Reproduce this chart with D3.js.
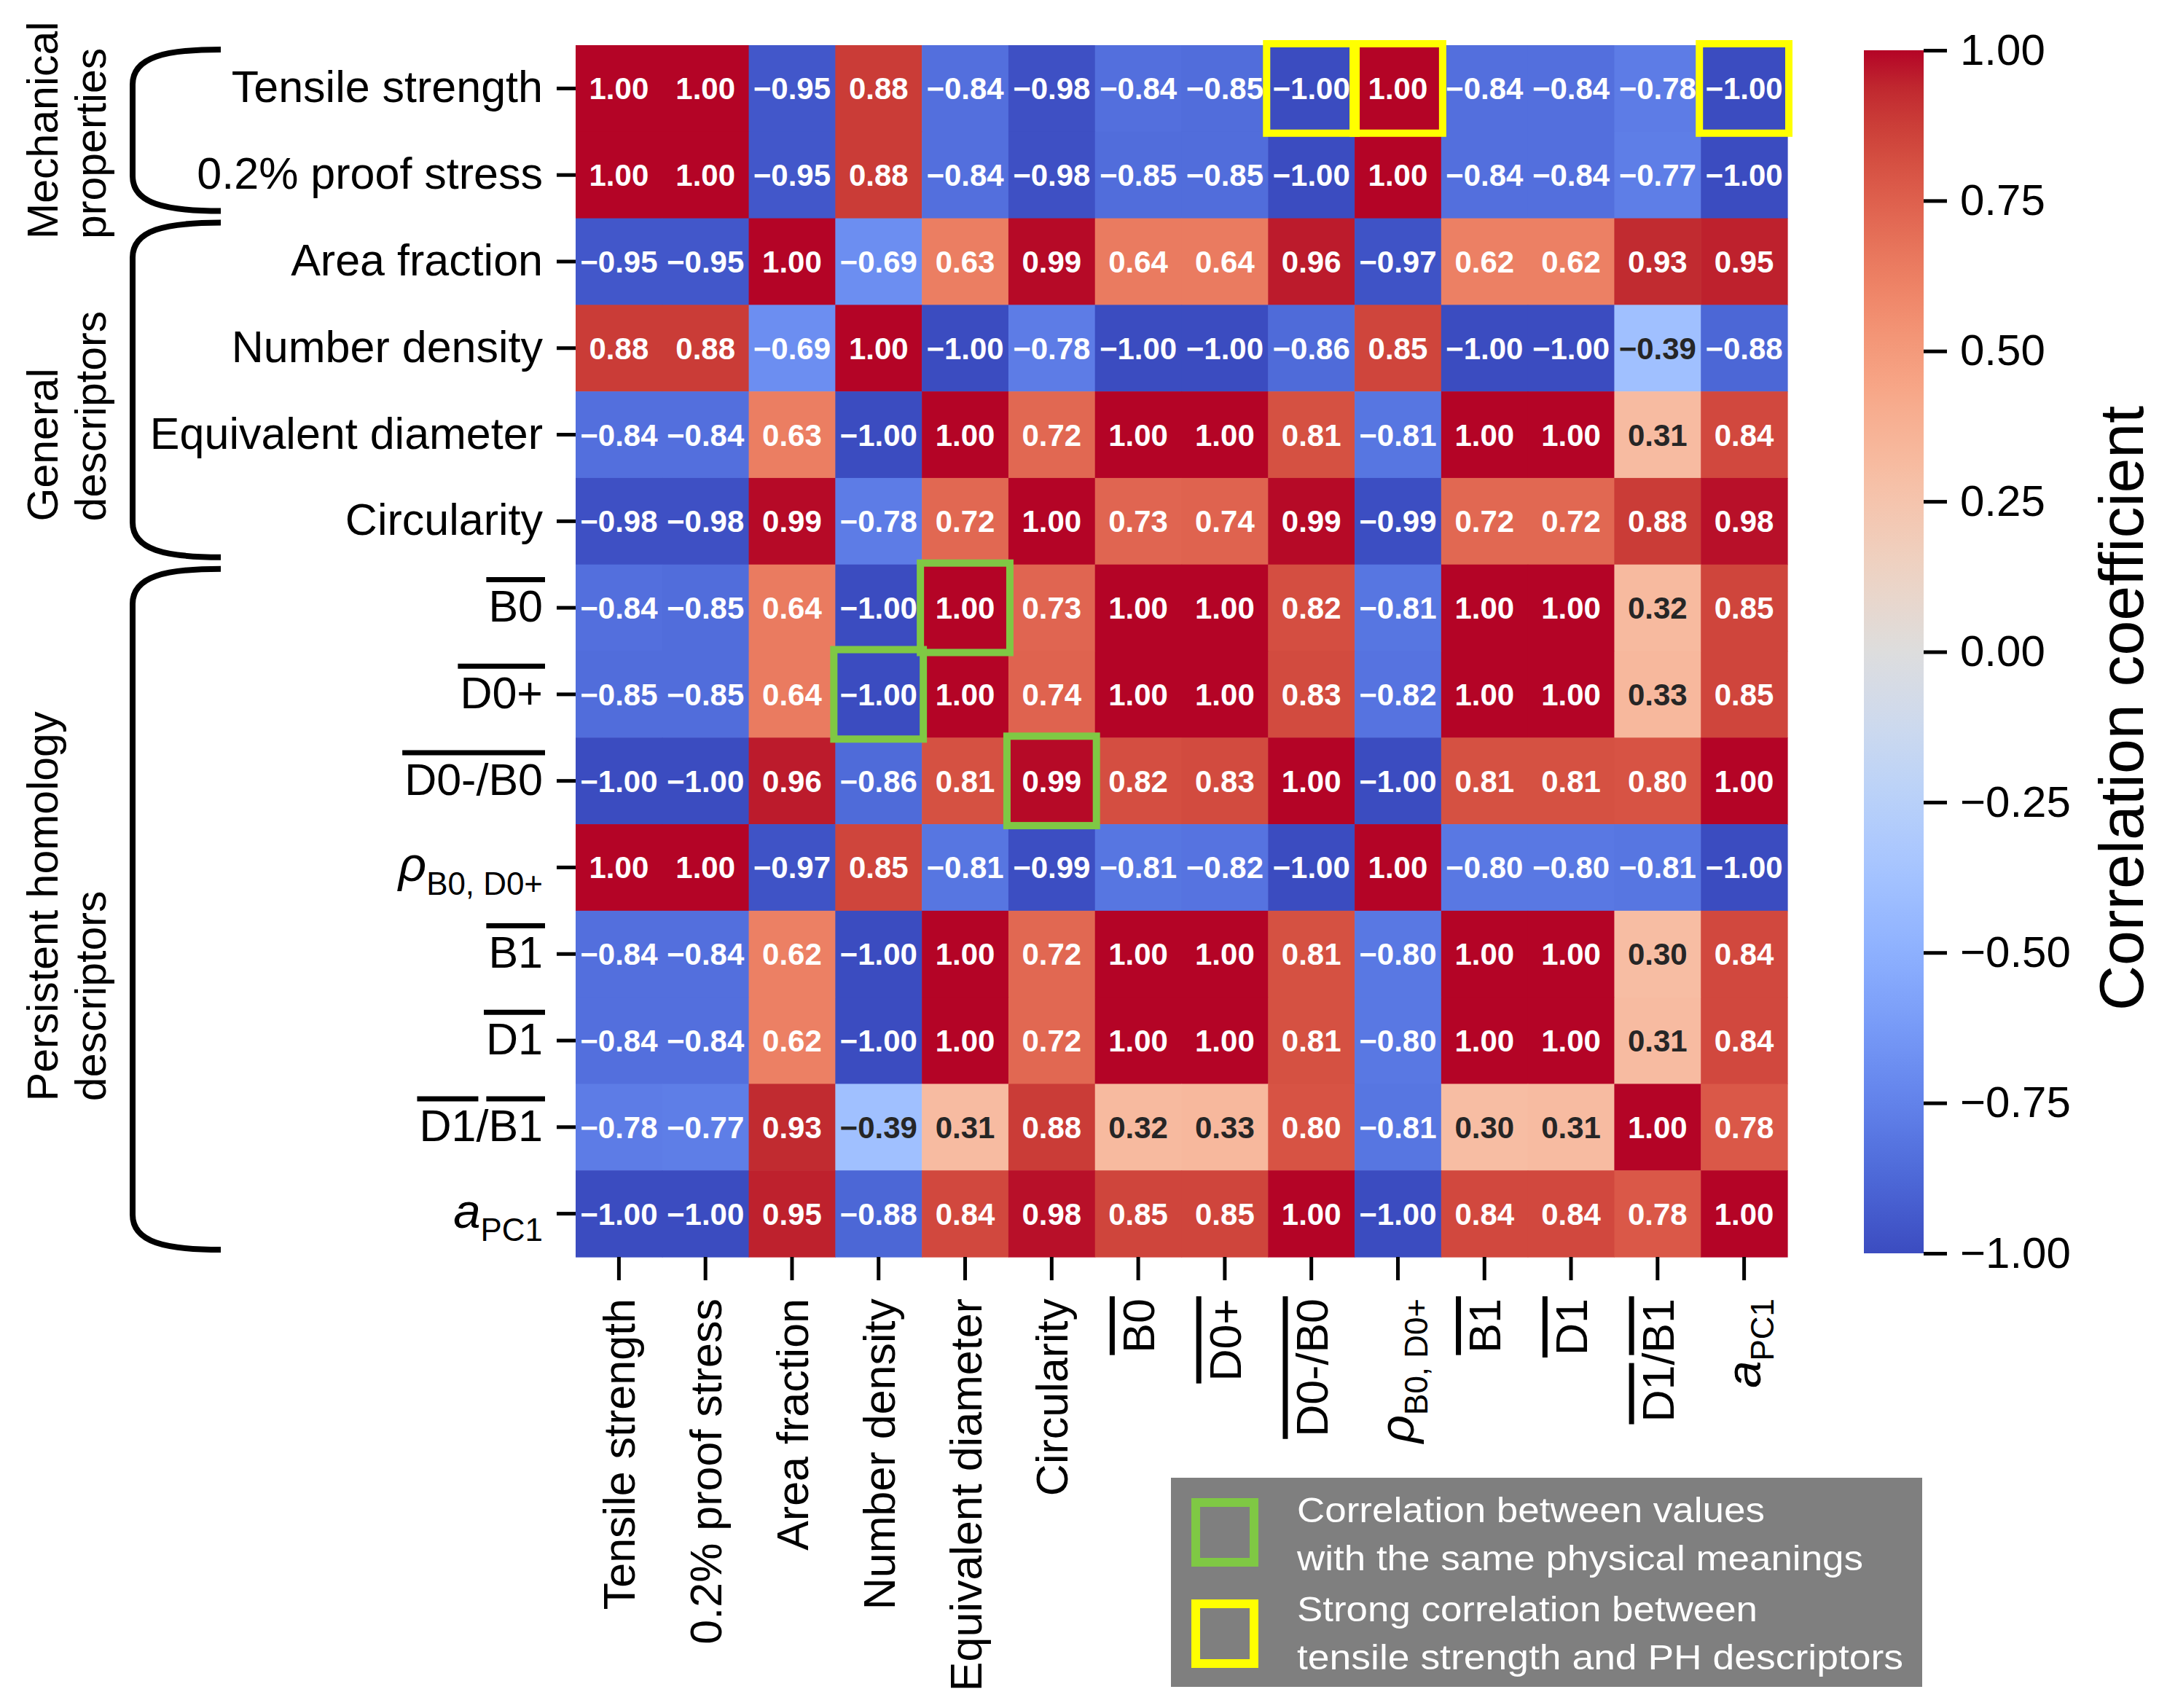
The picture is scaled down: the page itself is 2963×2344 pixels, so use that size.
<!DOCTYPE html>
<html>
<head>
<meta charset="utf-8">
<script src="https://cdn.jsdelivr.net/npm/d3@7"></script>
<style>
  body { margin: 0; background: #fff; }
  text { font-family: "Liberation Sans", Arial, sans-serif; }
</style>
</head>
<body>
<div id="container"></div>
<script>
// descriptor names: [..] = overline, _{..} = subscript, *..* = italic
const labels = [
  "Tensile strength", "0.2% proof stress", "Area fraction", "Number density",
  "Equivalent diameter", "Circularity", "[B0]", "[D0+]", "[D0-/B0]",
  "*ρ*_{B0, D0+}", "[B1]", "[D1]", "[D1]/[B1]", "*a*_{PC1}"
];

const values = [
  [ 1.00,  1.00, -0.95,  0.88, -0.84, -0.98, -0.84, -0.85, -1.00,  1.00, -0.84, -0.84, -0.78, -1.00],
  [ 1.00,  1.00, -0.95,  0.88, -0.84, -0.98, -0.85, -0.85, -1.00,  1.00, -0.84, -0.84, -0.77, -1.00],
  [-0.95, -0.95,  1.00, -0.69,  0.63,  0.99,  0.64,  0.64,  0.96, -0.97,  0.62,  0.62,  0.93,  0.95],
  [ 0.88,  0.88, -0.69,  1.00, -1.00, -0.78, -1.00, -1.00, -0.86,  0.85, -1.00, -1.00, -0.39, -0.88],
  [-0.84, -0.84,  0.63, -1.00,  1.00,  0.72,  1.00,  1.00,  0.81, -0.81,  1.00,  1.00,  0.31,  0.84],
  [-0.98, -0.98,  0.99, -0.78,  0.72,  1.00,  0.73,  0.74,  0.99, -0.99,  0.72,  0.72,  0.88,  0.98],
  [-0.84, -0.85,  0.64, -1.00,  1.00,  0.73,  1.00,  1.00,  0.82, -0.81,  1.00,  1.00,  0.32,  0.85],
  [-0.85, -0.85,  0.64, -1.00,  1.00,  0.74,  1.00,  1.00,  0.83, -0.82,  1.00,  1.00,  0.33,  0.85],
  [-1.00, -1.00,  0.96, -0.86,  0.81,  0.99,  0.82,  0.83,  1.00, -1.00,  0.81,  0.81,  0.80,  1.00],
  [ 1.00,  1.00, -0.97,  0.85, -0.81, -0.99, -0.81, -0.82, -1.00,  1.00, -0.80, -0.80, -0.81, -1.00],
  [-0.84, -0.84,  0.62, -1.00,  1.00,  0.72,  1.00,  1.00,  0.81, -0.80,  1.00,  1.00,  0.30,  0.84],
  [-0.84, -0.84,  0.62, -1.00,  1.00,  0.72,  1.00,  1.00,  0.81, -0.80,  1.00,  1.00,  0.31,  0.84],
  [-0.78, -0.77,  0.93, -0.39,  0.31,  0.88,  0.32,  0.33,  0.80, -0.81,  0.30,  0.31,  1.00,  0.78],
  [-1.00, -1.00,  0.95, -0.88,  0.84,  0.98,  0.85,  0.85,  1.00, -1.00,  0.84,  0.84,  0.78,  1.00]
];

const colorbarTicks = [1.00, 0.75, 0.50, 0.25, 0.00, -0.25, -0.50, -0.75, -1.00];

const groups = [
  { name: ["Mechanical", "properties"], rows: [0, 1] },
  { name: ["General", "descriptors"], rows: [2, 5] },
  { name: ["Persistent homology", "descriptors"], rows: [6, 13] }
];
// small hand nudge of the group names along the brace (px, downwards)
const groupNameShift = [0, 36, -4];

// [row, column]
const greenCells = [[6, 4], [7, 3], [8, 5]];
const yellowCells = [[0, 8], [0, 9], [0, 13]];

const legendItems = [
  { color: "#7fc844", lines: ["Correlation between values", "with the same physical meanings"] },
  { color: "#ffff00", lines: ["Strong correlation between", "tensile strength and PH descriptors"] }
];

// matplotlib coolwarm
const coolwarm = [
  "#3b4cc0", "#445acc", "#4d68d7", "#5775e1", "#6282ea", "#6c8ef1", "#779af7", "#82a5fb",
  "#8db0fe", "#98b9ff", "#a3c2ff", "#aec9fd", "#b8d0f9", "#c2d5f4", "#ccd9ee", "#d5dbe6",
  "#dddddd", "#e5d8d1", "#ecd3c5", "#f1ccb9", "#f5c4ad", "#f7bba0", "#f7b194", "#f7a687",
  "#f49a7b", "#f18d6f", "#ec7f63", "#e57058", "#de604d", "#d55042", "#cb3e38", "#c0282f",
  "#b40426"
];

const width = 2963;
const height = 2344;

const svg = d3.select("#container").append("svg")
  .attr("width", width)
  .attr("height", height)
  .attr("viewBox", `0 0 ${width} ${height}`);

svg.append("rect").attr("width", width).attr("height", height).attr("fill", "#fff");

const mapLeft = 790, mapTop = 62, mapSize = 1663;
const n = labels.length;

const x = d3.scaleBand().domain(d3.range(n)).range([mapLeft, mapLeft + mapSize]);
const y = d3.scaleBand().domain(d3.range(n)).range([mapTop, mapTop + mapSize]);
const bw = x.bandwidth();

const color = d3.scaleLinear()
  .domain(coolwarm.map((c, i) => -1 + 2 * i / (coolwarm.length - 1)))
  .range(coolwarm)
  .interpolate(d3.interpolateRgb)
  .clamp(true);

function luminance(c) {
  const rgb = d3.rgb(c);
  const f = v => { v /= 255; return v <= 0.03928 ? v / 12.92 : Math.pow((v + 0.055) / 1.055, 2.4); };
  return 0.2126 * f(rgb.r) + 0.7152 * f(rgb.g) + 0.0722 * f(rgb.b);
}

const cells = values.flatMap((row, i) => row.map((v, j) => ({ i, j, v })));

svg.append("g")
  .selectAll("rect")
  .data(cells)
  .join("rect")
  .attr("x", d => x(d.j))
  .attr("y", d => y(d.i))
  .attr("width", bw + 0.6)
  .attr("height", bw + 0.6)
  .attr("fill", d => color(d.v));

const fmt = d3.format(".2f");
svg.append("g")
  .selectAll("text")
  .data(cells)
  .join("text")
  .attr("x", d => x(d.j) + bw / 2)
  .attr("y", d => y(d.i) + bw / 2 + 15)
  .attr("text-anchor", "middle")
  .attr("font-size", 42)
  .attr("font-weight", "bold")
  .attr("fill", d => luminance(color(d.v)) > 0.408 ? "#262626" : "#fff")
  .text(d => fmt(d.v));

// highlight boxes
function boxes(list, stroke) {
  svg.append("g")
    .selectAll("rect")
    .data(list)
    .join("rect")
    .attr("x", d => x(d[1]) - 2)
    .attr("y", d => y(d[0]) - 2)
    .attr("width", bw + 4)
    .attr("height", bw + 4)
    .attr("fill", "none")
    .attr("stroke", stroke)
    .attr("stroke-width", 10);
}
boxes(greenCells, "#7fc844");
boxes(yellowCells, "#ffff00");

// axes (ticks only, labels drawn below)
svg.append("g")
  .attr("transform", `translate(${mapLeft},0)`)
  .call(d3.axisLeft(y).tickSize(26).tickFormat(""))
  .call(g => g.select(".domain").remove())
  .call(g => g.selectAll(".tick line").attr("stroke", "#000").attr("stroke-width", 5));

svg.append("g")
  .attr("transform", `translate(0,${mapTop + mapSize})`)
  .call(d3.axisBottom(x).tickSize(32).tickFormat(""))
  .call(g => g.select(".domain").remove())
  .call(g => g.selectAll(".tick line").attr("stroke", "#000").attr("stroke-width", 5));

function richLabel(g, str, fs) {
  const parts = str.split(/(\[[^\]]+\]|_\{[^}]+\}|\*[^*]+\*)/).filter(s => s.length);
  const base = 0.36 * fs;
  const t = g.append("text")
    .attr("text-anchor", "end")
    .attr("font-size", fs)
    .attr("x", 0)
    .attr("y", base);
  const overs = [];
  let k = 0;
  parts.forEach(p => {
    let s = p;
    if (p.startsWith("[")) {
      s = p.slice(1, -1);
      overs.push([k, k + s.length - 1]);
      t.append("tspan").text(s);
    } else if (p.startsWith("_{")) {
      s = p.slice(2, -1);
      t.append("tspan").attr("font-size", fs * 0.72).attr("dy", fs * 0.3).text(s);
    } else if (p.startsWith("*")) {
      s = p.slice(1, -1);
      t.append("tspan").attr("font-style", "italic").attr("font-size", fs * 1.1).text(s);
    } else {
      t.append("tspan").text(s);
    }
    k += s.length;
  });
  const node = t.node();
  overs.forEach(([a, b]) => {
    const e0 = node.getExtentOfChar(a);
    const e1 = node.getExtentOfChar(b);
    const oy = base - 0.716 * fs - 14;
    g.append("line")
      .attr("x1", e0.x - 3)
      .attr("x2", e1.x + e1.width + 3)
      .attr("y1", oy)
      .attr("y2", oy)
      .attr("stroke", "#000")
      .attr("stroke-width", 7);
  });
}

const labelSize = 61;
labels.forEach((lab, i) => {
  const g = svg.append("g").attr("transform", `translate(745,${y(i) + bw / 2 - 3})`);
  richLabel(g, lab, labelSize);
});
labels.forEach((lab, j) => {
  const g = svg.append("g").attr("transform", `translate(${x(j) + bw / 2},1782) rotate(-90)`);
  richLabel(g, lab, labelSize);
});

// group braces and names
groups.forEach((gr, gi) => {
  const y0 = y(gr.rows[0]) + 6;
  const y1 = y(gr.rows[1]) + bw - 10;
  const vx = 182, tx = 303;
  svg.append("path")
    .attr("d", `M${tx},${y0} C${vx + 45},${y0} ${vx},${y0 + 10} ${vx},${y0 + 48} L${vx},${y1 - 48} C${vx},${y1 - 10} ${vx + 45},${y1} ${tx},${y1}`)
    .attr("fill", "none")
    .attr("stroke", "#000")
    .attr("stroke-width", 8);
  const cy = (y0 + y1) / 2 + groupNameShift[gi];
  const texts = gr.name.map(s => svg.append("text").attr("font-size", 59).text(s));
  const maxW = d3.max(texts, t => t.node().getComputedTextLength());
  texts.forEach((t, k) => t.attr("transform", `translate(${79 + 66 * k},${cy + maxW / 2}) rotate(-90)`));
});

// colorbar
const cbX = 2558, cbW = 82, cbTop = 69, cbBot = 1720;
const cScale = d3.scaleLinear().domain([-1, 1]).range([cbBot, cbTop]);
const grad = svg.append("defs").append("linearGradient")
  .attr("id", "cbgrad")
  .attr("x1", 0).attr("y1", 1).attr("x2", 0).attr("y2", 0);
grad.selectAll("stop")
  .data(d3.range(0, 65).map(i => i / 64))
  .join("stop")
  .attr("offset", d => d)
  .attr("stop-color", d => color(-1 + 2 * d));
svg.append("rect")
  .attr("x", cbX).attr("y", cbTop)
  .attr("width", cbW).attr("height", cbBot - cbTop)
  .attr("fill", "url(#cbgrad)");

svg.append("g")
  .attr("transform", `translate(${cbX + cbW},0)`)
  .call(d3.axisRight(cScale).tickValues(colorbarTicks).tickFormat(d3.format(".2f")).tickSize(32).tickPadding(18))
  .attr("font-size", 60)
  .call(g => g.select(".domain").remove())
  .call(g => g.selectAll(".tick line").attr("stroke", "#000").attr("stroke-width", 5))
  .call(g => g.selectAll(".tick text").attr("fill", "#000"));

svg.append("text")
  .attr("transform", "translate(2941,972) rotate(-90)")
  .attr("text-anchor", "middle")
  .attr("font-size", 86)
  .text("Correlation coefficient");

// legend
const lg = svg.append("g");
lg.append("rect")
  .attr("x", 1607).attr("y", 2028)
  .attr("width", 1031).attr("height", 287)
  .attr("fill", "#7f7f7f");
const lineWidths = [642, 777, 632, 832];
legendItems.forEach((it, k) => {
  const sy = 2062 + k * 139;
  lg.append("rect")
    .attr("x", 1641).attr("y", sy)
    .attr("width", 80).attr("height", 82)
    .attr("fill", "none")
    .attr("stroke", it.color)
    .attr("stroke-width", 12);
  it.lines.forEach((s, m) => {
    lg.append("text")
      .attr("x", 1780)
      .attr("y", 2089 + k * 136 + m * 66)
      .attr("font-size", 48)
      .attr("fill", "#fff")
      .attr("textLength", lineWidths[k * 2 + m])
      .attr("lengthAdjust", "spacingAndGlyphs")
      .text(s);
  });
});
</script>
</body>
</html>
